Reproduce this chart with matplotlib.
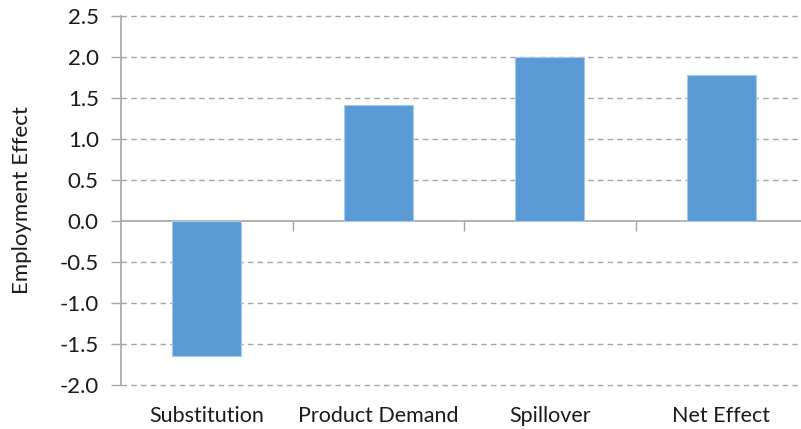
import numpy as np
import matplotlib.pyplot as plt

# data
categories = ["Substitution", "Product Demand", "Spillover", "Net Effect"]
effects = [-1.65, 1.41, 2.00, 1.78]
y_ticks = [-2.0, -1.5, -1.0, -0.5, 0.0, 0.5, 1.0, 1.5, 2.0, 2.5]

plt.rcParams['font.family'] = ['Lato', 'DejaVu Sans']

fig = plt.figure(figsize=(8.01, 4.29), dpi=100)
# plot area runs a little past the right edge, as in the reference
ax = fig.add_axes([121 / 801, 1 - 385 / 429, 686 / 801, 369 / 429])

x = np.arange(len(categories))
ax.bar(x, effects, width=0.4, color='#5B9BD5', edgecolor='#A9C9EA', linewidth=0.8, zorder=3)

ax.set_xlim(-0.5, len(categories) - 0.5)
ax.set_ylim(y_ticks[0], y_ticks[-1])
ax.set_yticks(y_ticks)
ax.set_yticklabels([f"{v:.1f}" for v in y_ticks])

# dashed horizontal grid
for v in y_ticks:
    if v != 0:
        ax.axhline(v, color='#A6A6A6', linestyle=(0, (4, 3)), linewidth=1.0,
                   zorder=1, clip_on=False)

# spines
for s in ['top', 'right', 'bottom']:
    ax.spines[s].set_visible(False)
ax.spines['left'].set_color('#A6A6A6')
ax.spines['left'].set_linewidth(1.2)
ax.spines['left'].set_zorder(4)

ax.tick_params(axis='y', length=7, width=1.0, color='#A6A6A6', labelsize=16,
               labelcolor='#1a1a1a', pad=9)
ax.set_xticks(x)
ax.set_xticklabels(categories)
ax.tick_params(axis='x', length=0, labelsize=15.5, labelcolor='#1a1a1a', pad=15)

# zero line with category separators
zero_pos = (0 - y_ticks[0]) / (y_ticks[-1] - y_ticks[0])
sec = ax.secondary_xaxis(zero_pos)
sec.set_xticks(x[:-1] + 0.5)
sec.set_xticklabels([])
sec.spines['bottom'].set_color('#A6A6A6')
sec.spines['bottom'].set_linewidth(1.2)
sec.tick_params(axis='x', direction='out', length=7, width=1.0, color='#A6A6A6')

ax.set_ylabel("Employment Effect", fontsize=16, color='#1a1a1a', labelpad=20)

fig.savefig("out.png", dpi=100)
